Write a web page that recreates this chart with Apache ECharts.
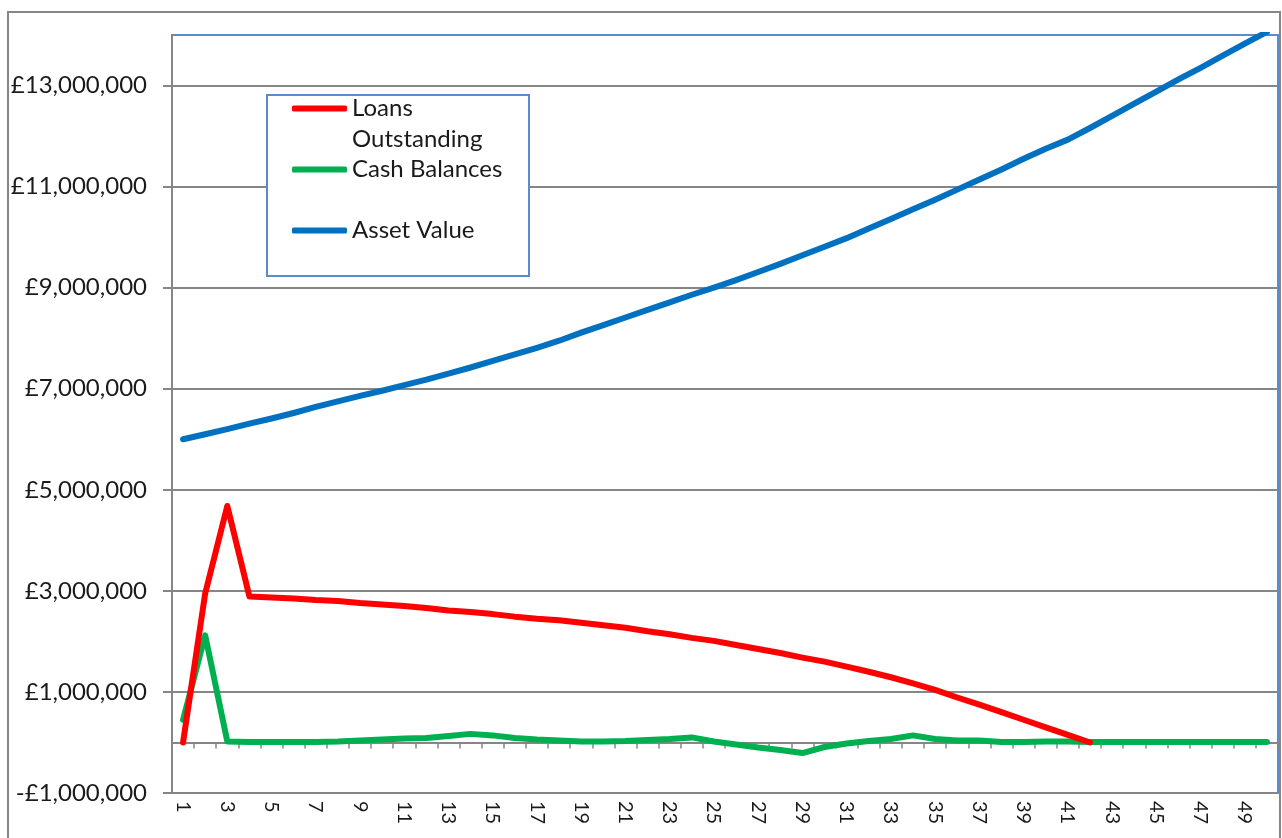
<!DOCTYPE html>
<html>
<head>
<meta charset="utf-8">
<title>Loans, Cash and Asset Value</title>
<script src="https://cdn.jsdelivr.net/npm/echarts@6/dist/echarts.min.js"></script>
<style>
  html, body { margin: 0; padding: 0; background: #ffffff; }
  #chart { width: 1282px; height: 838px; }
</style>
</head>
<body>
<div id="chart"></div>
<script>
// Year numbers along the bottom axis
const years = ['1','2','3','4','5','6','7','8','9','10',
  '11','12','13','14','15','16','17','18','19','20',
  '21','22','23','24','25','26','27','28','29','30',
  '31','32','33','34','35','36','37','38','39','40',
  '41','42','43','44','45','46','47','48','49','50'];

// Loans outstanding (£); fully repaid after year 42
const loansOutstanding = [0, 2950000, 4680000, 2890000, 2870000, 2850000, 2820000, 2800000, 2760000, 2730000,
  2700000, 2660000, 2610000, 2580000, 2540000, 2490000, 2450000, 2420000, 2370000, 2320000,
  2270000, 2200000, 2140000, 2070000, 2010000, 1930000, 1850000, 1770000, 1680000, 1600000,
  1500000, 1400000, 1290000, 1170000, 1040000, 890000, 750000, 600000, 450000, 300000,
  150000, 0, null, null, null, null, null, null, null, null];

// Cash balances (£)
const cashBalances = [450000, 2120000, 20000, 10000, 10000, 10000, 10000, 20000, 40000, 60000,
  80000, 90000, 130000, 170000, 140000, 90000, 60000, 40000, 20000, 20000,
  30000, 50000, 70000, 100000, 20000, -40000, -100000, -150000, -210000, -90000,
  -20000, 30000, 70000, 140000, 70000, 40000, 40000, 10000, 10000, 20000,
  20000, 10000, 10000, 10000, 10000, 10000, 10000, 10000, 10000, 10000];

// Asset value (£)
const assetValue = [6000000, 6100000, 6200000, 6310000, 6410000, 6520000, 6640000, 6750000, 6860000, 6960000,
  7070000, 7180000, 7300000, 7420000, 7550000, 7680000, 7810000, 7950000, 8110000, 8260000,
  8410000, 8560000, 8710000, 8860000, 9000000, 9150000, 9310000, 9470000, 9640000, 9810000,
  9980000, 10170000, 10360000, 10550000, 10740000, 10940000, 11140000, 11340000, 11550000, 11750000,
  11930000, 12160000, 12400000, 12640000, 12880000, 13120000, 13350000, 13590000, 13830000, 14060000];

// Labelled values on the money axis
const yTicks = [-1000000, 1000000, 3000000, 5000000, 7000000, 9000000, 11000000, 13000000];

const FONT = 'Lato';
const GRID_GREY = '#868686';
const FRAME_BLUE = '#5B8BC8';
const LINE_W = 6;

function pounds(v) {
  const s = Math.abs(v).toLocaleString('en-GB');
  return v < 0 ? '-£' + s : '£' + s;
}

const chart = echarts.init(document.getElementById('chart'), null, { renderer: 'canvas' });

const legendText = { fontFamily: FONT, fontSize: 24, lineHeight: 31, color: '#1a1a1a' };
function legendFor(name, top, formatter) {
  return {
    show: true,
    orient: 'vertical',
    left: 292,
    top: top,
    padding: 0,
    itemWidth: 55,
    itemHeight: 6,
    icon: 'roundRect',
    selectedMode: false,
    data: [name],
    textStyle: legendText,
    formatter: formatter || '{name}',
    z: 5
  };
}

const option = {
  backgroundColor: '#ffffff',
  animation: false,
  grid: {
    left: 172, right: 4, top: 35, bottom: 45,
    show: true,
    borderColor: FRAME_BLUE,
    borderWidth: 2,
    backgroundColor: 'transparent'
  },
  legend: [
    legendFor('Loans Outstanding', 62, function (n) { return '\n' + n.replace(' ', '\n'); }),
    legendFor('Cash Balances', 154),
    legendFor('Asset Value', 215)
  ],
  graphic: [
    {
      type: 'rect', z: -10, silent: true,
      shape: { x: 8, y: 12, width: 1272, height: 900 },
      style: { fill: 'none', stroke: GRID_GREY, lineWidth: 2 }
    },
    {
      type: 'rect', z: 3, silent: true,
      shape: { x: 267, y: 95, width: 262, height: 181 },
      style: { fill: '#ffffff', stroke: FRAME_BLUE, lineWidth: 2 }
    }
  ],
  xAxis: {
    type: 'category',
    data: years,
    boundaryGap: true,
    axisLine: { show: true, onZero: true, lineStyle: { color: GRID_GREY, width: 2 } },
    axisTick: { show: true, interval: 0, length: 6, lineStyle: { color: GRID_GREY, width: 1.5 } },
    axisLabel: {
      interval: 1, rotate: -90, margin: 8,
      fontFamily: FONT, fontSize: 20, color: '#1a1a1a'
    },
    splitLine: { show: false }
  },
  yAxis: {
    type: 'value',
    min: -1000000,
    max: 14000000,
    interval: 1000000,
    axisLine: { show: true, lineStyle: { color: GRID_GREY, width: 2 } },
    axisTick: { show: true, length: 9, customValues: yTicks, lineStyle: { color: GRID_GREY, width: 2 } },
    axisLabel: {
      customValues: yTicks, margin: 25,
      fontFamily: FONT, fontSize: 24, color: '#1a1a1a',
      formatter: pounds
    },
    splitLine: { show: true, lineStyle: { color: GRID_GREY, width: 2 } }
  },
  series: [
    {
      name: 'Asset Value', type: 'line', data: assetValue,
      symbol: 'none', color: '#0070C0',
      lineStyle: { width: LINE_W, color: '#0070C0', cap: 'round', join: 'round' }
    },
    {
      name: 'Cash Balances', type: 'line', data: cashBalances,
      symbol: 'none', color: '#00B050',
      lineStyle: { width: LINE_W, color: '#00B050', cap: 'round', join: 'round' }
    },
    {
      name: 'Loans Outstanding', type: 'line', data: loansOutstanding,
      symbol: 'none', color: '#FF0000',
      lineStyle: { width: LINE_W, color: '#FF0000', cap: 'round', join: 'round' }
    }
  ]
};

chart.setOption(option);
</script>
</body>
</html>
